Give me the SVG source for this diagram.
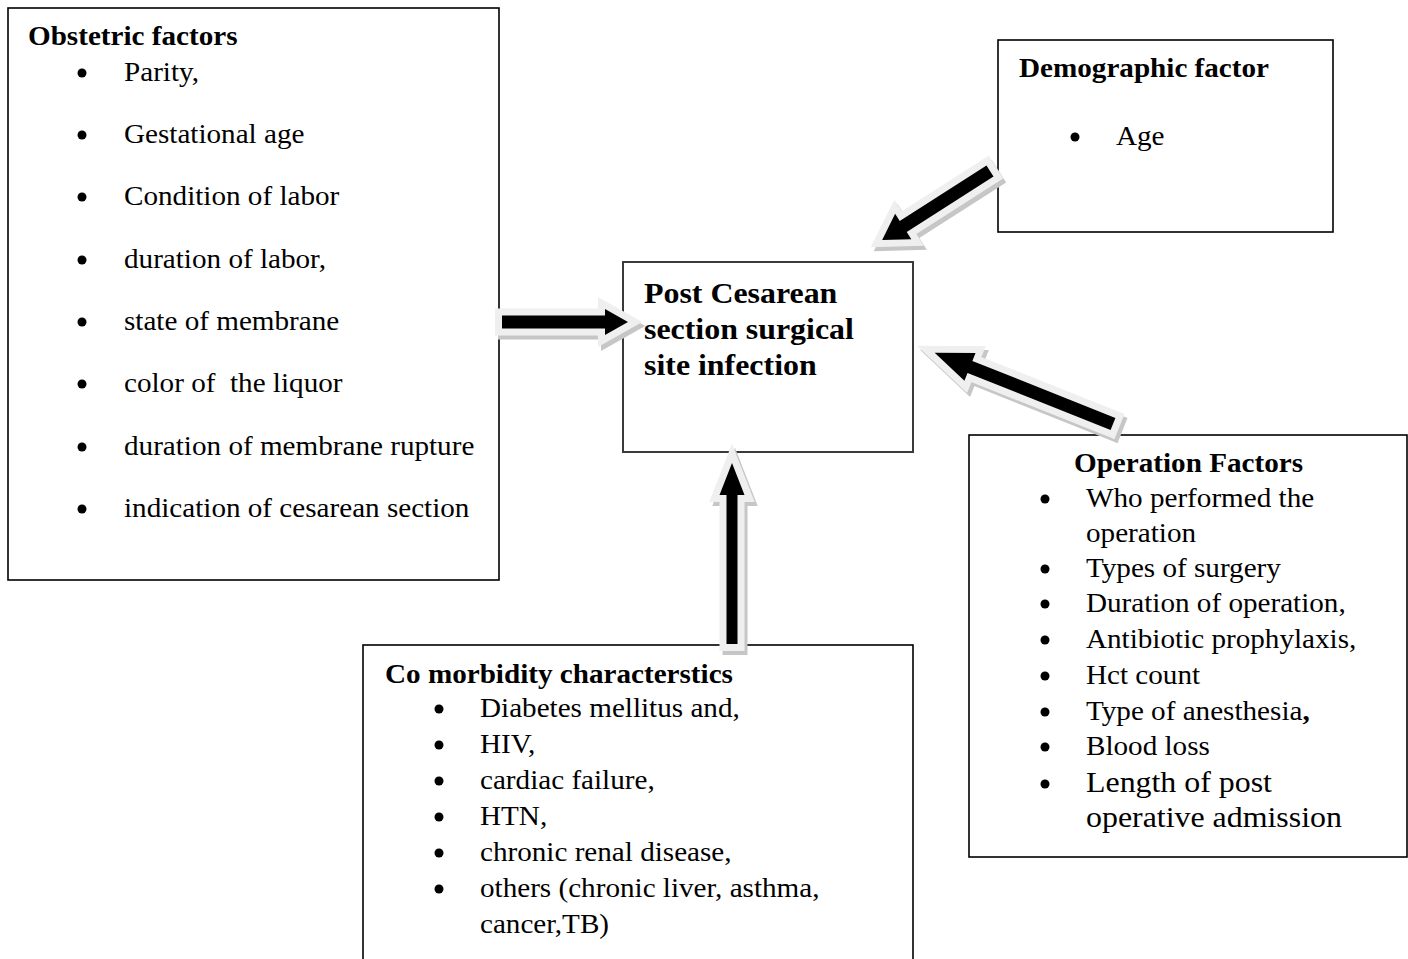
<svg xmlns="http://www.w3.org/2000/svg" width="1408" height="959" viewBox="0 0 1408 959">
<style>
.box{fill:#fff;stroke:#000;stroke-width:1.6}
.cbox{fill:#fff;stroke:#3a3a3a;stroke-width:2}
.t{font-family:"Liberation Serif","Times New Roman",serif;font-size:26.5px;fill:#000}
.b{font-weight:bold}
.lg{font-size:29px}
.bul{fill:#000}
.ash{fill:#c6c6c6;stroke:#c6c6c6;stroke-width:14;stroke-linejoin:miter}
.abody{fill:#000;stroke:#efefef;stroke-width:14;stroke-linejoin:miter;paint-order:stroke}
</style>
<rect width="1408" height="959" fill="#fff"/>

<g id="obstetric">
<rect class="box" x="8" y="8" width="491" height="572"/>
<text class="t b" transform="matrix(1.1 0 0 1 28 45)">Obstetric factors</text>
<circle class="bul" cx="82" cy="73" r="4.5"/><text class="t" transform="matrix(1.1 0 0 1 124 81)">Parity,</text>
<circle class="bul" cx="82" cy="135" r="4.5"/><text class="t" transform="matrix(1.1 0 0 1 124 143)">Gestational age</text>
<circle class="bul" cx="82" cy="197" r="4.5"/><text class="t" transform="matrix(1.1 0 0 1 124 205)">Condition of labor</text>
<circle class="bul" cx="82" cy="260" r="4.5"/><text class="t" transform="matrix(1.1 0 0 1 124 268)">duration of labor,</text>
<circle class="bul" cx="82" cy="322" r="4.5"/><text class="t" transform="matrix(1.1 0 0 1 124 330)">state of membrane</text>
<circle class="bul" cx="82" cy="384" r="4.5"/><text class="t" transform="matrix(1.1 0 0 1 124 392)" xml:space="preserve">color of  the liquor</text>
<circle class="bul" cx="82" cy="447" r="4.5"/><text class="t" transform="matrix(1.1 0 0 1 124 455)">duration of membrane rupture</text>
<circle class="bul" cx="82" cy="509" r="4.5"/><text class="t" transform="matrix(1.1 0 0 1 124 517)">indication of cesarean section</text>
</g>

<g id="demographic">
<rect class="box" x="998" y="40" width="335" height="192"/>
<text class="t b" transform="matrix(1.1 0 0 1 1019 77)">Demographic factor</text>
<circle class="bul" cx="1075" cy="137" r="4.5"/><text class="t" transform="matrix(1.1 0 0 1 1116 145)">Age</text>
</g>

<g id="center">
<rect class="cbox" x="623" y="262" width="290" height="190"/>
<text class="t b lg" transform="matrix(1.1 0 0 1 644 303)">Post Cesarean</text>
<text class="t b lg" transform="matrix(1.1 0 0 1 644 339)">section surgical</text>
<text class="t b lg" transform="matrix(1.1 0 0 1 644 375)">site infection</text>
</g>

<g id="operation">
<rect class="box" x="969" y="435" width="438" height="422"/>
<text class="t b" transform="matrix(1.1 0 0 1 1074 472)">Operation Factors</text>
<circle class="bul" cx="1045" cy="499" r="4.5"/><text class="t" transform="matrix(1.1 0 0 1 1086 507)">Who performed the</text>
<text class="t" transform="matrix(1.1 0 0 1 1086 542)">operation</text>
<circle class="bul" cx="1045" cy="569" r="4.5"/><text class="t" transform="matrix(1.1 0 0 1 1086 577)">Types of surgery</text>
<circle class="bul" cx="1045" cy="604" r="4.5"/><text class="t" transform="matrix(1.1 0 0 1 1086 612)">Duration of operation,</text>
<circle class="bul" cx="1045" cy="640" r="4.5"/><text class="t" transform="matrix(1.1 0 0 1 1086 648)">Antibiotic prophylaxis,</text>
<circle class="bul" cx="1045" cy="676" r="4.5"/><text class="t" transform="matrix(1.1 0 0 1 1086 684)">Hct count</text>
<circle class="bul" cx="1045" cy="712" r="4.5"/><text class="t" transform="matrix(1.1 0 0 1 1086 720)">Type of anesthesia<tspan class="b">,</tspan></text>
<circle class="bul" cx="1045" cy="747" r="4.5"/><text class="t" transform="matrix(1.1 0 0 1 1086 755)">Blood loss</text>
<circle class="bul" cx="1045" cy="784" r="4.5"/><text class="t lg" transform="matrix(1.1 0 0 1 1086 792)">Length of post</text>
<text class="t lg" transform="matrix(1.1 0 0 1 1086 827)">operative admission</text>
</g>

<g id="comorbidity">
<rect class="box" x="363" y="645" width="550" height="330"/>
<text class="t b" transform="matrix(1.1 0 0 1 385 683)">Co morbidity characterstics</text>
<circle class="bul" cx="439" cy="709" r="4.5"/><text class="t" transform="matrix(1.1 0 0 1 480 717)">Diabetes mellitus and,</text>
<circle class="bul" cx="439" cy="745" r="4.5"/><text class="t" transform="matrix(1.1 0 0 1 480 753)">HIV,</text>
<circle class="bul" cx="439" cy="781" r="4.5"/><text class="t" transform="matrix(1.1 0 0 1 480 789)">cardiac failure,</text>
<circle class="bul" cx="439" cy="817" r="4.5"/><text class="t" transform="matrix(1.1 0 0 1 480 825)">HTN,</text>
<circle class="bul" cx="439" cy="853" r="4.5"/><text class="t" transform="matrix(1.1 0 0 1 480 861)">chronic renal disease,</text>
<circle class="bul" cx="439" cy="889" r="4.5"/><text class="t" transform="matrix(1.1 0 0 1 480 897)">others (chronic liver, asthma,</text>
<text class="t" transform="matrix(1.1 0 0 1 480 933)">cancer,TB)</text>
</g>

<g id="connectors">
<g transform="translate(502,322)">
<path class="ash" transform="translate(3,4)" d="M0,-6.5 L103,-6.5 L103,-13 L126,0 L103,13 L103,6.5 L0,6.5 Z"/>
<path class="abody" d="M0,-6.5 L103,-6.5 L103,-13 L126,0 L103,13 L103,6.5 L0,6.5 Z"/>
</g>
<g transform="translate(990,171)">
<path class="ash" transform="translate(3,4) rotate(147.4)" d="M0,-6.5 L103,-6.5 L103,-15 L128,0 L103,15 L103,6.5 L0,6.5 Z"/>
<path class="abody" transform="rotate(147.4)" d="M0,-6.5 L103,-6.5 L103,-15 L128,0 L103,15 L103,6.5 L0,6.5 Z"/>
</g>
<g transform="translate(1113,424)">
<path class="ash" transform="translate(3,4) rotate(201.75)" d="M0,-6.5 L154,-6.5 L154,-15 L192,0 L154,15 L154,6.5 L0,6.5 Z"/>
<path class="abody" transform="rotate(201.75)" d="M0,-6.5 L154,-6.5 L154,-15 L192,0 L154,15 L154,6.5 L0,6.5 Z"/>
</g>
<g transform="translate(732,644)">
<path class="ash" transform="translate(3,4) rotate(-90)" d="M0,-5.5 L149,-5.5 L149,-12.5 L181,0 L149,12.5 L149,5.5 L0,5.5 Z"/>
<path class="abody" transform="rotate(-90)" d="M0,-5.5 L149,-5.5 L149,-12.5 L181,0 L149,12.5 L149,5.5 L0,5.5 Z"/>
</g>
</g>
</svg>
